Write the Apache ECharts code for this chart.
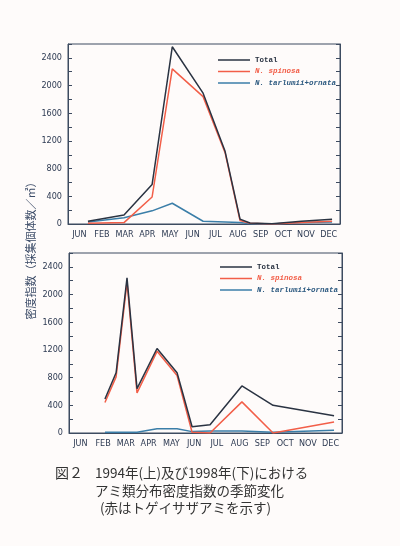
<!DOCTYPE html>
<html><head><meta charset="utf-8">
<script src="https://cdn.jsdelivr.net/npm/echarts@6/dist/echarts.min.js"></script>
<style>html,body{margin:0;padding:0;background:#fefbfa}#c{width:400px;height:546px}</style>
</head><body><div id="c"></div>
<script>
const months = ['JUN','FEB','MAR','APR','MAY','JUN','JUL','AUG','SEP','OCT','NOV','DEC'];
const seriesNames = ['Total','N. spinosa','N. tarlumii+ornata'];
const yTicks = [0,400,800,1200,1600,2000,2400];
// 1994 (top): sampling positions in month units (0 = start of first month)
const x1994 = [0.88, 2.47, 3.71, 4.6, 5.96, 6.93, 7.59, 8.03, 9.0, 10.3, 11.65];
const total1994 = [40, 130, 570, 2560, 1890, 1050, 70, 15, 5, 40, 70];
const spinosa1994 = [10, 20, 390, 2240, 1840, 1030, 50, 10, 0, 20, 40];
const other1994 = [30, 90, 190, 300, 40, 30, 20, 5, 0, 20, 30];
// 1998 (bottom)
const x1998 = [1.58, 2.07, 2.55, 2.99, 3.87, 4.75, 5.41, 6.2, 7.6, 8.97, 11.65];
const total1998 = [490, 870, 2240, 640, 1220, 870, 90, 120, 680, 400, 250];
const spinosa1998 = [440, 810, 2180, 580, 1180, 830, 10, 0, 450, 0, 160];
const other1998 = [10, 10, 10, 10, 60, 60, 20, 30, 30, 10, 40];
const yAxisTitle = '密度指数（採集個体数／㎡）';
const captionLines = ['1994年(上)及び1998年(下)における','アミ類分布密度指数の季節変化','(赤はトゲイサザアミを示す)'];
const figLabel = '図２';

const colors = {total:'#2a3342', spinosa:'#f25e48', other:'#3b7ea8'};
const frame = '#3d4b60';
const labelColor = '#2d3a52';
const chart = echarts.init(document.getElementById('c'), null, {renderer:'canvas'});

function pairs(xs, ys){ return xs.map((x,i)=>[x, ys[i]]); }

const grids = [
  {left:68, top:44, width:272, height:180},
  {left:69, top:253, width:273, height:180}
];
const xAxis = [], yAxis = [], series = [];
grids.forEach((g, gi) => {
  xAxis.push({
    gridIndex:gi, type:'category', data:months, boundaryGap:true,
    axisLine:{lineStyle:{color:frame,width:1}},
    axisTick:{inside:true,length:4,lineStyle:{color:frame}},
    axisLabel:{color:labelColor,fontSize:9,fontFamily:'DejaVu Sans Condensed, DejaVu Sans',margin:6,interval:0}
  });
  xAxis.push({gridIndex:gi, type:'value', min:0, max:12, show:false});
  yAxis.push({
    gridIndex:gi, type:'value', min:0, max:2600, interval:400,
    axisLine:{show:true,lineStyle:{color:frame}},
    axisTick:{show:true,inside:true,length:4,lineStyle:{color:frame}},
    minorTick:{show:true,splitNumber:2,length:4,lineStyle:{color:frame}},
    splitLine:{show:false},
    axisLabel:{color:labelColor,fontSize:9,fontFamily:'DejaVu Sans Condensed, DejaVu Sans',margin:6,showMaxLabel:false,
      formatter:v=> yTicks.indexOf(v)>=0 ? String(v) : ''}
  });
  yAxis.push({
    gridIndex:gi, type:'value', position:'right', min:0, max:2600, interval:200,
    axisLine:{show:true,lineStyle:{color:frame}},
    axisTick:{show:true,inside:true,length:4,lineStyle:{color:frame}},
    axisLabel:{show:false}, splitLine:{show:false}
  });
});
const sets = [[x1994,total1994,spinosa1994,other1994],[x1998,total1998,spinosa1998,other1998]];
sets.forEach((s, gi) => {
  const xs = s[0];
  [[seriesNames[2], s[3], colors.other],[seriesNames[1], s[2], colors.spinosa],[seriesNames[0], s[1], colors.total]].forEach(([name, ys, col]) => {
    series.push({
      name, type:'line', xAxisIndex:gi*2+1, yAxisIndex:gi*2, data:pairs(xs, ys),
      symbol:'none', lineStyle:{color:col,width:1.5}, itemStyle:{color:col}, animation:false
    });
  });
});
function legend(top, left){
  return {
    top, left, orient:'vertical', itemWidth:32, itemHeight:8, itemGap:3.5, padding:0,
    icon:'path://M0,4 L32,4 L32,5.5 L0,5.5 Z',
    textStyle:{fontSize:7.5, fontWeight:'bold', fontFamily:'Liberation Mono, DejaVu Sans Mono', padding:[0,0,0,0]},
    data:[
      {name:seriesNames[0], textStyle:{color:colors.total}},
      {name:seriesNames[1], textStyle:{color:colors.spinosa, fontStyle:'italic'}},
      {name:seriesNames[2], textStyle:{color:'#2d5a80', fontStyle:'italic'}}
    ],
    selectedMode:false
  };
}
const capFont = '"Noto Sans CJK JP"';
chart.setOption({
  backgroundColor:'#fefbfa',
  animation:false,
  grid: grids.map(g=>Object.assign({show:true,borderColor:frame,borderWidth:1,backgroundColor:'transparent'}, g)),
  xAxis, yAxis, series,
  legend:[legend(56,218), legend(263,220)],
  graphic:[
    {type:'text', x:31, y:248, rotation:Math.PI/2, style:{text:yAxisTitle, fill:'#3a4a66', font:'11px '+capFont, textAlign:'center', textVerticalAlign:'middle'}},
    {type:'text', x:55, y:473, style:{text:figLabel, fill:'#333', font:'14px '+capFont, textVerticalAlign:'middle'}},
    {type:'text', x:95, y:473, style:{text:captionLines[0], fill:'#333', font:'13.5px '+capFont, textVerticalAlign:'middle'}},
    {type:'text', x:95, y:491, style:{text:captionLines[1], fill:'#333', font:'13.5px '+capFont, textVerticalAlign:'middle'}},
    {type:'text', x:100, y:508, style:{text:captionLines[2], fill:'#333', font:'13.5px '+capFont, textVerticalAlign:'middle'}}
  ]
});
</script></body></html>
